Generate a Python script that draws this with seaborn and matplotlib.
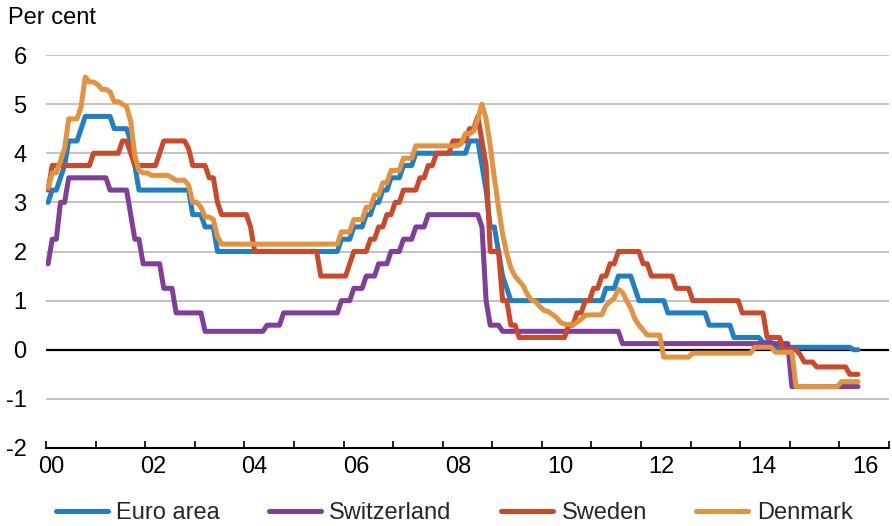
import numpy as np
import pandas as pd
import matplotlib
matplotlib.use("Agg")
import matplotlib.pyplot as plt
import seaborn as sns
from matplotlib.ticker import FixedLocator

# ---- data: policy rates, per cent (month, value from that month on) ----
START, END = "2000-01", "2016-05"

euro_area = [("2000-01", 3.0), ("2000-02", 3.25), ("2000-04", 3.5), ("2000-05", 3.75),
             ("2000-06", 4.25), ("2000-09", 4.5), ("2000-10", 4.75), ("2001-05", 4.5),
             ("2001-09", 4.25), ("2001-10", 3.75), ("2001-11", 3.25), ("2002-12", 2.75),
             ("2003-03", 2.5), ("2003-06", 2.0), ("2005-12", 2.25), ("2006-03", 2.5),
             ("2006-06", 2.75), ("2006-08", 3.0), ("2006-10", 3.25), ("2006-12", 3.5),
             ("2007-03", 3.75), ("2007-06", 4.0), ("2008-07", 4.25), ("2008-10", 3.75),
             ("2008-11", 3.25), ("2008-12", 2.5), ("2009-02", 2.0), ("2009-03", 1.5),
             ("2009-04", 1.25), ("2009-05", 1.0), ("2011-04", 1.25), ("2011-07", 1.5),
             ("2011-11", 1.25), ("2011-12", 1.0), ("2012-07", 0.75), ("2013-05", 0.5),
             ("2013-11", 0.25), ("2014-06", 0.15), ("2014-09", 0.05), ("2016-04", 0.0)]

switzerland = [("2000-01", 1.75), ("2000-02", 2.25), ("2000-04", 3.0), ("2000-06", 3.5),
               ("2001-04", 3.25), ("2001-09", 2.75), ("2001-10", 2.25), ("2001-12", 1.75),
               ("2002-05", 1.25), ("2002-08", 0.75), ("2003-03", 0.375), ("2004-06", 0.5),
               ("2004-10", 0.75), ("2005-12", 1.0), ("2006-03", 1.25), ("2006-06", 1.5),
               ("2006-09", 1.75), ("2006-12", 2.0), ("2007-03", 2.25), ("2007-06", 2.5),
               ("2007-09", 2.75), ("2008-10", 2.5), ("2008-11", 1.0), ("2008-12", 0.5),
               ("2009-03", 0.375), ("2011-08", 0.125), ("2015-01", -0.75)]

sweden = [("2000-01", 3.25), ("2000-02", 3.75), ("2000-12", 4.0), ("2001-07", 4.25),
          ("2001-09", 4.0), ("2001-10", 3.75), ("2002-04", 4.0), ("2002-05", 4.25),
          ("2002-11", 4.1), ("2002-12", 3.75), ("2003-04", 3.5), ("2003-06", 3.0),
          ("2003-07", 2.75), ("2004-02", 2.5), ("2004-03", 2.0), ("2005-07", 1.5),
          ("2006-02", 1.75), ("2006-03", 2.0), ("2006-07", 2.25), ("2006-09", 2.5),
          ("2006-11", 2.75), ("2007-01", 3.0), ("2007-03", 3.25), ("2007-07", 3.5),
          ("2007-09", 3.75), ("2007-11", 4.0), ("2008-03", 4.25), ("2008-07", 4.5),
          ("2008-09", 4.75), ("2008-10", 4.25), ("2008-11", 3.75), ("2008-12", 2.0),
          ("2009-03", 1.0), ("2009-05", 0.5), ("2009-07", 0.25), ("2010-07", 0.5),
          ("2010-09", 0.75), ("2010-11", 1.0), ("2011-01", 1.25), ("2011-03", 1.5),
          ("2011-05", 1.75), ("2011-07", 2.0), ("2012-01", 1.75), ("2012-03", 1.5),
          ("2012-09", 1.25), ("2013-01", 1.0), ("2014-01", 0.75), ("2014-07", 0.25),
          ("2014-11", 0.0), ("2015-03", -0.1), ("2015-04", -0.25), ("2015-07", -0.35),
          ("2016-03", -0.5)]

denmark = [("2000-01", 3.3), ("2000-02", 3.6), ("2000-04", 3.85), ("2000-05", 4.1),
           ("2000-06", 4.7), ("2000-09", 4.95), ("2000-10", 5.55), ("2000-11", 5.45),
           ("2001-01", 5.4), ("2001-02", 5.3), ("2001-04", 5.25), ("2001-05", 5.05),
           ("2001-07", 5.0), ("2001-08", 4.95), ("2001-09", 4.65), ("2001-10", 3.95),
           ("2001-11", 3.65), ("2001-12", 3.6), ("2002-02", 3.55), ("2002-07", 3.5),
           ("2002-08", 3.45), ("2002-11", 3.35), ("2002-12", 3.0), ("2003-02", 2.9),
           ("2003-03", 2.7), ("2003-05", 2.65), ("2003-06", 2.3), ("2003-07", 2.15),
           ("2005-12", 2.4), ("2006-03", 2.65), ("2006-06", 2.9), ("2006-08", 3.15),
           ("2006-10", 3.4), ("2006-12", 3.65), ("2007-03", 3.9), ("2007-06", 4.15),
           ("2008-05", 4.2), ("2008-06", 4.4), ("2008-08", 4.45), ("2008-09", 4.7),
           ("2008-10", 5.0), ("2008-11", 4.7), ("2008-12", 4.15), ("2009-01", 3.5),
           ("2009-02", 2.9), ("2009-03", 2.35), ("2009-04", 1.96), ("2009-05", 1.66),
           ("2009-06", 1.5), ("2009-07", 1.4), ("2009-08", 1.3), ("2009-09", 1.12),
           ("2009-10", 1.01), ("2009-11", 0.98), ("2009-12", 0.88), ("2010-01", 0.8),
           ("2010-02", 0.78), ("2010-03", 0.72), ("2010-04", 0.66), ("2010-05", 0.56),
           ("2010-06", 0.52), ("2010-07", 0.51), ("2010-09", 0.56), ("2010-10", 0.62),
           ("2010-11", 0.7), ("2010-12", 0.71), ("2011-04", 0.9), ("2011-05", 0.98),
           ("2011-06", 1.05), ("2011-07", 1.23), ("2011-08", 1.17), ("2011-09", 1.0),
           ("2011-10", 0.85), ("2011-11", 0.63), ("2011-12", 0.5), ("2012-01", 0.4),
           ("2012-02", 0.3), ("2012-06", -0.15), ("2013-01", -0.07), ("2014-04", 0.05),
           ("2014-09", -0.05), ("2015-02", -0.75), ("2016-01", -0.65)]

series_names = ["Euro area", "Switzerland", "Sweden", "Denmark"]
series_data = [euro_area, switzerland, sweden, denmark]
colors = ["#1F7FC6", "#7E3E9A", "#CB4829", "#E3923D"]

y_ticks = [-2, -1, 0, 1, 2, 3, 4, 5, 6]
x_labels = ["00", "02", "04", "06", "08", "10", "12", "14", "16"]


def monthly(changes):
    s = pd.Series({pd.Period(m, "M"): v for m, v in changes})
    idx = pd.period_range(START, END, freq="M")
    return s.reindex(idx).ffill()


frames = []
for name, ch in zip(series_names, series_data):
    s = monthly(ch)
    frames.append(pd.DataFrame({
        "t": [p.year + (p.month - 0.5) / 12 for p in s.index],
        "value": s.values,
        "series": name,
    }))
df = pd.concat(frames, ignore_index=True)

# ---- drawing ----
sns.set_theme(style="white")
plt.rcParams["font.family"] = ["Liberation Sans", "DejaVu Sans"]
plt.rcParams["axes.unicode_minus"] = False

FS = 17

fig = plt.figure(figsize=(8.92, 5.26), dpi=100)
ax = fig.add_axes([46 / 892, 1 - 448 / 526, (889 - 46) / 892, (448 - 55) / 526])

sns.lineplot(data=df, x="t", y="value", hue="series", hue_order=series_names,
             palette=dict(zip(series_names, colors)), linewidth=3.6,
             estimator=None, sort=False, legend=False, ax=ax, zorder=3)

ax.set_xlim(2000, 2017)
ax.set_ylim(-2, 6)
ax.set_yticks(y_ticks)
ax.set_yticklabels([str(v) for v in y_ticks])
ax.yaxis.grid(True, color="#BEBEBE", linewidth=1.3, zorder=0)
ax.xaxis.grid(False)
ax.axhline(0, color="black", linewidth=1.6, zorder=2)

label_pos = [2000.1 + 2.053 * i for i in range(len(x_labels))]
ax.xaxis.set_major_locator(FixedLocator(label_pos))
ax.set_xticklabels(x_labels)
ax.xaxis.set_minor_locator(FixedLocator(list(range(2000, 2018))))
ax.tick_params(axis="x", which="major", length=0, pad=6, labelsize=FS, colors="black")
ax.tick_params(axis="x", which="minor", bottom=True, length=5, width=1.2,
               direction="in", color="black")
ax.tick_params(axis="y", length=0, pad=14, labelsize=FS, labelcolor="black")

for sp in ["top", "right", "left"]:
    ax.spines[sp].set_visible(False)
ax.spines["bottom"].set_color("black")
ax.spines["bottom"].set_linewidth(1.5)
ax.spines["bottom"].set_zorder(4)

ax.set_xlabel("")
ax.set_ylabel("")

fig.text(8 / 892, 1 - 18 / 526, "Per cent", ha="left", va="center",
         fontsize=FS, color="black")

handles = ax.lines[:4]
fig.legend(handles, series_names, loc="center", bbox_to_anchor=(454 / 892, 13 / 526),
           ncol=4, frameon=False, handlelength=2.2, handletextpad=0.35,
           columnspacing=2.1, fontsize=FS, borderaxespad=0, borderpad=0)

fig.savefig("out.png", dpi=100)
